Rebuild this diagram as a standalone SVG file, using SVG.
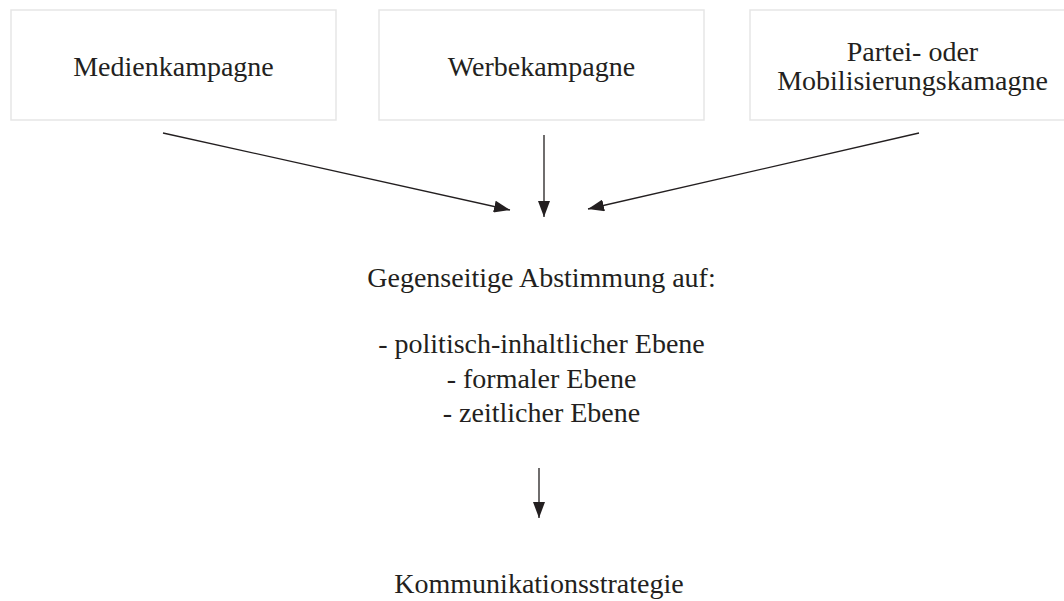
<svg xmlns="http://www.w3.org/2000/svg" width="1064" height="601" viewBox="0 0 1064 601">
<style>
.box{fill:#ffffff;stroke:#e6e6e6;stroke-width:1.5}
.t{font-family:"Liberation Serif","DejaVu Serif",serif;font-size:28px;fill:#231f20;text-anchor:middle}
.c{stroke:#231f20;stroke-width:1.3;fill:none;marker-end:url(#ah)}
</style>
<defs>
<marker id="ah" viewBox="0 0 16 12" refX="16" refY="6" markerWidth="16" markerHeight="12" markerUnits="userSpaceOnUse" orient="auto">
<path d="M0,0 L16,6 L0,12 Z" fill="#231f20"/>
</marker>
</defs>
<rect width="1064" height="601" fill="#ffffff"/>
<g id="medien">
<rect class="box" x="11" y="10" width="325" height="110"/>
<text class="t" x="173.5" y="76">Medienkampagne</text>
</g>
<g id="werbe">
<rect class="box" x="379" y="10" width="325" height="110"/>
<text class="t" x="541.5" y="76">Werbekampagne</text>
</g>
<g id="partei">
<rect class="box" x="750" y="10" width="325" height="110"/>
<text class="t" x="912.5" y="61">Partei- oder</text>
<text class="t" x="912.5" y="90">Mobilisierungskamagne</text>
</g>
<g id="abstimmung">
<text class="t" x="541.5" y="287">Gegenseitige Abstimmung auf:</text>
<text class="t" x="541.5" y="353">- politisch-inhaltlicher Ebene</text>
<text class="t" x="541.5" y="388">- formaler Ebene</text>
<text class="t" x="541.5" y="422">- zeitlicher Ebene</text>
</g>
<g id="strategie">
<text class="t" x="539" y="593">Kommunikationsstrategie</text>
</g>
<g id="connectors">
<line class="c" x1="163" y1="133" x2="510" y2="210"/>
<line class="c" x1="544" y1="135" x2="544" y2="217"/>
<line class="c" x1="919" y1="133" x2="588" y2="209"/>
<line class="c" x1="539" y1="468" x2="539" y2="518"/>
</g>
</svg>
